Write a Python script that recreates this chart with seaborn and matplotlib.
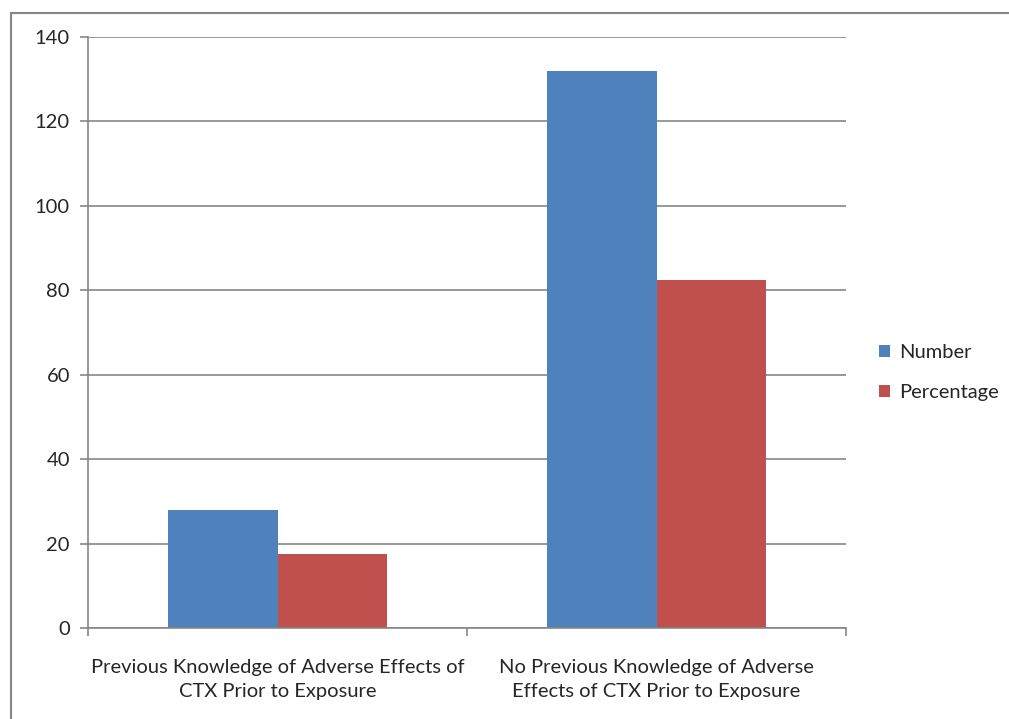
import numpy as np
import pandas as pd
import matplotlib
matplotlib.use('Agg')
import matplotlib.pyplot as plt
import seaborn as sns
from matplotlib.patches import Rectangle

categories = ["Previous Knowledge of Adverse Effects of\nCTX Prior to Exposure",
              "No Previous Knowledge of Adverse\nEffects of CTX Prior to Exposure"]
series = ["Number", "Percentage"]
number_vals = [28, 132]
percentage_vals = [17.5, 82.5]
y_ticks = [0, 20, 40, 60, 80, 100, 120, 140]
colors = ["#4F81BD", "#C0504D"]

df = pd.DataFrame({
    "category": categories * 2,
    "series": [series[0]] * 2 + [series[1]] * 2,
    "value": number_vals + percentage_vals,
})

sns.set_style("white")
plt.rcParams['font.family'] = ['Lato', 'DejaVu Sans']
grid_col = "#868686"
fs = 14.5

fig = plt.figure(figsize=(10.09, 7.19), dpi=100)
ax = fig.add_axes([0.0872, 0.1266, 0.7513, 0.8219])

sns.barplot(data=df, x="category", y="value", hue="series", palette=colors,
            width=0.577, gap=0, saturation=1, ax=ax, legend=True)

ax.set_ylim(0, 140)
ax.set_xlim(-0.5, 1.5)
ax.set_yticks(y_ticks)
ax.set_xlabel("")
ax.set_ylabel("")
ax.yaxis.grid(True, color=grid_col, linewidth=1.2)
ax.set_axisbelow(True)
for s in ["top", "right"]:
    ax.spines[s].set_visible(False)
for s in ["left", "bottom"]:
    ax.spines[s].set_color(grid_col)
    ax.spines[s].set_linewidth(1.2)

ax.tick_params(axis="y", length=6, width=1.2, color=grid_col, direction="out",
               labelsize=fs, pad=7, left=True)
ax.tick_params(axis="x", which="major", length=0, labelsize=fs, pad=22)
ax.set_xticks([-0.5, 0.5, 1.5], minor=True)
ax.tick_params(axis="x", which="minor", length=6, width=1.2, color=grid_col,
               direction="out", bottom=True)
for lab in ax.get_xticklabels():
    lab.set_linespacing(1.5)

for p in ax.patches:
    p.set_edgecolor("none")

handles, labels = ax.get_legend_handles_labels()
ax.legend(handles, labels, loc="center left", bbox_to_anchor=(1.02, 0.432),
          frameon=False, fontsize=fs, handlelength=0.55, handleheight=0.55,
          labelspacing=1.15, handletextpad=0.45)

fig.patches.append(Rectangle((0.0105, -0.01), 1.5, 0.992, transform=fig.transFigure,
                             fill=False, edgecolor=grid_col, linewidth=1.5))

fig.savefig("out.png", dpi=100)
